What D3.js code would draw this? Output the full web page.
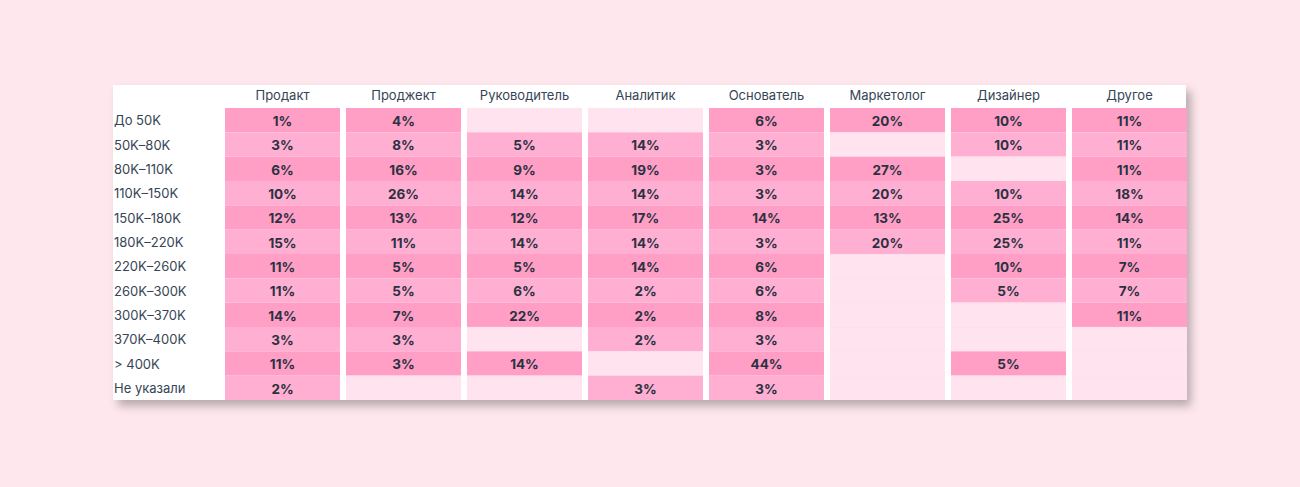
<!DOCTYPE html>
<html><head><meta charset="utf-8">
<script src="https://cdn.jsdelivr.net/npm/d3@7"></script>
<style>
html,body{margin:0;padding:0;background:#fee8ee;}
svg{display:block;}
text{font-family:Inter,"Noto Sans",sans-serif;}
</style></head>
<body>
<svg id="chart" width="1300" height="487"></svg>
<script>
const columns = ["Продакт","Проджект","Руководитель","Аналитик","Основатель","Маркетолог","Дизайнер","Другое"];
const rows = ["До 50K","50K–80K","80K–110K","110K–150K","150K–180K","180K–220K","220K–260K","260K–300K","300K–370K","370K–400K","> 400K","Не указали"];
const product    = [1,3,6,10,12,15,11,11,14,3,11,2];
const project    = [4,8,16,26,13,11,5,5,7,3,3,null];
const lead       = [null,5,9,14,12,14,5,6,22,null,14,null];
const analyst    = [null,14,19,14,17,14,14,2,2,2,null,3];
const founder    = [6,3,3,3,14,3,6,6,8,3,44,3];
const marketer   = [20,null,27,20,13,20,null,null,null,null,null,null];
const designer   = [10,10,null,10,25,25,10,5,null,null,5,null];
const other      = [11,11,11,18,14,11,7,7,11,null,null,null];
const series = [product,project,lead,analyst,founder,marketer,designer,other];

const svg = d3.select("#chart");
const defs = svg.append("defs");
const f = defs.append("filter").attr("id","sh").attr("x","-5%").attr("y","-10%").attr("width","115%").attr("height","130%");
f.append("feDropShadow").attr("dx",5).attr("dy",6).attr("stdDeviation",5).attr("flood-color","#000").attr("flood-opacity",0.28);

svg.append("rect").attr("x",113).attr("y",85).attr("width",1073).attr("height",315)
  .attr("fill","#fff").attr("filter","url(#sh)");

const x = d3.scaleBand().domain(columns).range([225,1187]).paddingInner(6/121).paddingOuter(0);
const y = d3.scaleBand().domain(rows).range([108,400]).padding(0);

const cells = [];
series.forEach((s,ci)=>s.forEach((v,ri)=>cells.push({c:columns[ci],r:rows[ri],ri,v})));

const fill = d => d.v == null ? "#ffe3ee" : (d.ri % 2 === 0 ? "#ff9fc5" : "#ffafd1");

const g = svg.append("g");
g.selectAll("rect.cell").data(cells).join("rect").attr("class","cell")
  .attr("x",d=>x(d.c)).attr("y",d=>y(d.r))
  .attr("width",x.bandwidth()).attr("height",y.bandwidth())
  .attr("fill",fill);

// faint separators between empty cells
g.selectAll("line.sep").data(cells.filter(d=>d.v==null && d.ri>0)).join("line").attr("class","sep")
  .attr("x1",d=>x(d.c)).attr("x2",d=>x(d.c)+x.bandwidth())
  .attr("y1",d=>y(d.r)+0.25).attr("y2",d=>y(d.r)+0.25)
  .attr("stroke","#ffd9e7").attr("stroke-width",0.5);

g.selectAll("text.val").data(cells.filter(d=>d.v!=null)).join("text").attr("class","val")
  .attr("x",d=>x(d.c)+x.bandwidth()/2).attr("y",d=>y(d.r)+y.bandwidth()/2)
  .attr("dy","0.42em").attr("text-anchor","middle")
  .attr("font-size",13.5).attr("font-weight",700).attr("fill","#2b3142")
  .text(d=>d.v+"%");

svg.append("g").selectAll("text").data(columns).join("text")
  .attr("x",d=>x(d)+x.bandwidth()/2).attr("y",100)
  .attr("text-anchor","middle").attr("font-size",13).attr("fill","#364555")
  .text(d=>d);

svg.append("g").selectAll("text").data(rows).join("text")
  .attr("x",114).attr("y",d=>y(d)+y.bandwidth()/2).attr("dy","0.4em")
  .attr("font-size",13).attr("fill","#364555")
  .text(d=>d);
</script>
</body></html>
